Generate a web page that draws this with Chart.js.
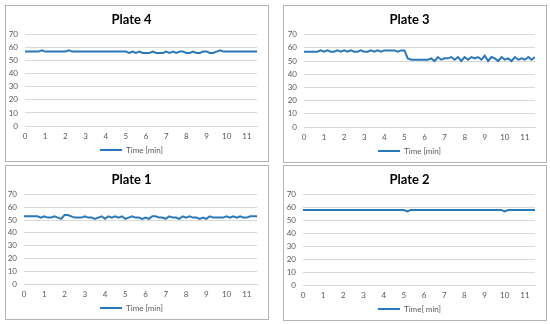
<!DOCTYPE html>
<html>
<head>
<meta charset="utf-8">
<script src="https://cdn.jsdelivr.net/npm/chart.js@4.4.0/dist/chart.umd.min.js"></script>
<style>
  body { margin: 0; background: #fff; width: 550px; height: 324px; position: relative; overflow: hidden; }
  .panel { position: absolute; border: 1px solid #b4b4b4; background: #fff; overflow: hidden; }
  .panel canvas { display: block; }
</style>
</head>
<body>
<div class="panel" id="p4" style="left:5px; top:5px; width:262px; height:155px;"><canvas id="c4"></canvas></div>
<div class="panel" id="p3" style="left:283px; top:5px; width:262px; height:156px;"><canvas id="c3"></canvas></div>
<div class="panel" id="p1" style="left:5px; top:165px; width:262px; height:153px;"><canvas id="c1"></canvas></div>
<div class="panel" id="p2" style="left:283px; top:165px; width:262px; height:154px;"><canvas id="c2"></canvas></div>
<script>
// samples every 10 s, time axis in minutes
const sampleSeconds = 10;
const yTicks = [0, 10, 20, 30, 40, 50, 60, 70];
const xTicks = [0, 1, 2, 3, 4, 5, 6, 7, 8, 9, 10, 11];

const plate4 = [57, 57, 57, 57, 57, 58, 57, 57, 57, 57, 57, 57, 57, 58, 57, 57, 57, 57, 57, 57,
                57, 57, 57, 57, 57, 57, 57, 57, 57, 57, 57, 56, 57, 56, 57, 56, 56, 56, 57, 56,
                56, 56, 57, 56, 57, 56, 57, 57, 56, 56, 57, 56, 56, 57, 57, 56, 56, 57, 58, 57,
                57, 57, 57, 57, 57, 57, 57, 57, 57, 57];
const plate3 = [57, 57, 57, 57, 57, 58, 57, 58, 57, 57, 58, 57, 58, 57, 58, 57, 57, 58, 57, 57,
                58, 57, 58, 57, 58, 58, 58, 58, 57, 58, 58, 52, 51, 51, 51, 51, 51, 51, 52, 50,
                53, 51, 52, 52, 53, 51, 53, 50, 53, 51, 53, 52, 53, 51, 54, 50, 53, 52, 50, 53,
                51, 52, 50, 53, 51, 52, 51, 53, 51, 53];
const plate1 = [53, 53, 53, 53, 53, 52, 53, 52, 52, 53, 52, 51, 54, 54, 53, 52, 52, 52, 53, 52,
                52, 51, 52, 53, 51, 53, 52, 53, 52, 53, 51, 52, 53, 52, 52, 51, 52, 51, 53, 53,
                52, 52, 51, 53, 52, 52, 51, 53, 52, 53, 52, 52, 51, 52, 51, 53, 52, 52, 52, 52,
                53, 52, 53, 52, 53, 52, 52, 53, 53, 53];
const plate2 = [58, 58, 58, 58, 58, 58, 58, 58, 58, 58, 58, 58, 58, 58, 58, 58, 58, 58, 58, 58,
                58, 58, 58, 58, 58, 58, 58, 58, 58, 58, 58, 57, 58, 58, 58, 58, 58, 58, 58, 58,
                58, 58, 58, 58, 58, 58, 58, 58, 58, 58, 58, 58, 58, 58, 58, 58, 58, 58, 58, 58,
                57, 58, 58, 58, 58, 58, 58, 58, 58, 58];

const lineColor = '#2b78b8';
const gridColor = '#d9d9d9';
const textColor = '#595959';
const font = 'Lato, "Open Sans", sans-serif';

function toPoints(values) {
    return values.map((v, i) => ({ x: i * sampleSeconds / 60, y: v }));
}

function makeChart(canvasId, panelId, title, values, legendText, yWidth) {
    const panel = document.getElementById(panelId);
    const canvas = document.getElementById(canvasId);
    // a little taller than the panel: the legend's empty space below is clipped
    canvas.width = panel.clientWidth;
    canvas.height = panel.clientHeight + 3;
    return new Chart(canvas.getContext('2d'), {
        type: 'line',
        data: {
            datasets: [{
                label: legendText,
                data: toPoints(values),
                borderColor: lineColor,
                backgroundColor: lineColor,
                borderWidth: 2,
                pointRadius: 0,
                tension: 0
            }]
        },
        options: {
            responsive: false,
            animation: false,
            layout: { padding: { left: 0, right: 11, top: 0, bottom: 0 } },
            scales: {
                x: {
                    type: 'linear',
                    min: 0,
                    max: 11.5,
                    afterBuildTicks: axis => { axis.ticks = xTicks.map(v => ({ value: v })); },
                    afterFit: axis => { axis.height = 17; },
                    ticks: { color: textColor, font: { family: font, size: 8 }, padding: 6, maxRotation: 0, autoSkip: false },
                    grid: { display: false, drawTicks: false },
                    border: { display: true, color: gridColor, width: 1 }
                },
                y: {
                    min: 0,
                    max: 70,
                    afterBuildTicks: axis => { axis.ticks = yTicks.map(v => ({ value: v })); },
                    afterFit: axis => { axis.width = yWidth; },
                    ticks: { color: textColor, font: { family: font, size: 8 }, padding: 7, autoSkip: false },
                    grid: { color: gridColor, drawTicks: false },
                    border: { display: false }
                }
            },
            plugins: {
                title: {
                    display: true,
                    text: title,
                    color: '#000',
                    font: { family: font, size: 13, weight: 'bold' },
                    padding: { top: 6, bottom: 7 }
                },
                legend: {
                    position: 'bottom',
                    labels: {
                        color: textColor,
                        font: { family: font, size: 8 },
                        usePointStyle: true,
                        pointStyle: 'line',
                        pointStyleWidth: 22,
                        boxHeight: 8,
                        padding: 3
                    }
                },
                tooltip: { enabled: false }
            }
        }
    });
}

makeChart('c4', 'p4', 'Plate 4', plate4, 'Time [min]', 19);
makeChart('c3', 'p3', 'Plate 3', plate3, 'Time [min]', 20);
makeChart('c1', 'p1', 'Plate 1', plate1, 'Time [min]', 18);
makeChart('c2', 'p2', 'Plate 2', plate2, 'Time[ min]', 19);
</script>
</body>
</html>
